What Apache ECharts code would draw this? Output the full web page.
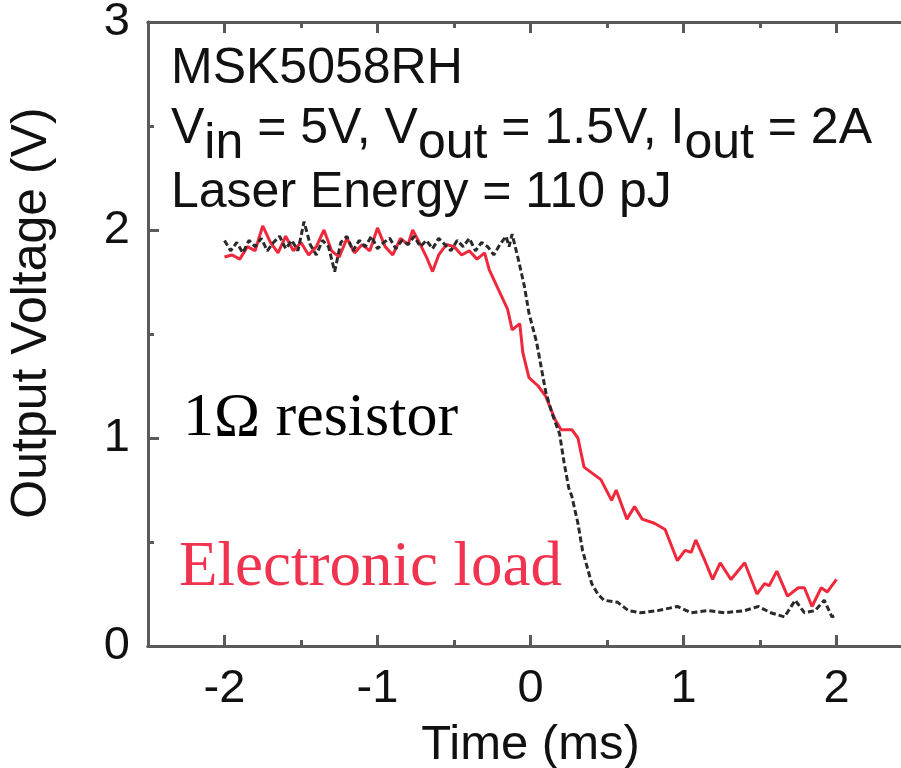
<!DOCTYPE html>
<html>
<head>
<meta charset="utf-8">
<script src="https://cdn.jsdelivr.net/npm/echarts@6/dist/echarts.min.js"></script>
<style>
  html, body { margin: 0; padding: 0; background: #fff; }
  #chart { width: 901px; height: 768px; }
</style>
</head>
<body>
<div id="chart"></div>
<script>
// 1 ohm resistor trace (black)
const resistorTime = [-2.0, -1.96, -1.92, -1.88, -1.84, -1.8, -1.76, -1.72, -1.68, -1.64, -1.6, -1.56, -1.52, -1.48, -1.44, -1.4, -1.36, -1.32, -1.28, -1.24, -1.2, -1.16, -1.12, -1.08, -1.04, -1.0, -0.96, -0.92, -0.88, -0.84, -0.8, -0.76, -0.72, -0.68, -0.64, -0.6, -0.56, -0.52, -0.48, -0.44, -0.4, -0.36, -0.32, -0.28, -0.24, -0.2, -0.16, -0.14, -0.12,
  -0.08, -0.04, -0.01, 0.04, 0.07, 0.10, 0.14, 0.19, 0.22, 0.25, 0.27, 0.31, 0.34, 0.37, 0.40, 0.44, 0.48,
  0.57, 0.64, 0.72, 0.83, 0.96, 1.05, 1.16, 1.27, 1.40, 1.49, 1.57, 1.66, 1.73, 1.79, 1.86, 1.92, 1.97, 2.0];
const resistorVolt = [1.95, 1.90, 1.94, 1.89, 1.95, 1.92, 1.96, 1.90, 1.94, 1.97, 1.91, 1.95, 1.90, 2.04, 1.93, 1.88, 1.95, 1.92, 1.80, 1.94, 1.97, 1.90, 1.95, 1.92, 1.97, 1.91, 1.94, 1.96, 1.91, 1.95, 1.93, 1.97, 1.92, 1.95, 1.91, 1.96, 1.93, 1.90, 1.95, 1.92, 1.96, 1.90, 1.94, 1.92, 1.88, 1.93, 1.97, 1.92, 1.98,
  1.86, 1.73, 1.60, 1.46, 1.34, 1.22, 1.12, 1.02, 0.88, 0.76, 0.72, 0.59, 0.46, 0.38, 0.30, 0.25, 0.22,
  0.21, 0.17, 0.16, 0.17, 0.19, 0.16, 0.17, 0.16, 0.17, 0.19, 0.16, 0.14, 0.22, 0.16, 0.17, 0.22, 0.14, 0.15];

// electronic load trace (red)
const loadTime = [-2.0, -1.95, -1.9, -1.85, -1.8, -1.75, -1.7, -1.65, -1.6, -1.55, -1.5, -1.45, -1.4, -1.35, -1.3, -1.25, -1.2, -1.15, -1.1, -1.05, -1.0, -0.95, -0.9, -0.85, -0.8, -0.77, -0.72, -0.68, -0.64, -0.6, -0.55, -0.5, -0.45, -0.4, -0.35, -0.3,
  -0.27, -0.22, -0.15, -0.12, -0.07, -0.05, -0.01, 0.05, 0.10, 0.16, 0.20, 0.27, 0.31, 0.35, 0.46, 0.53, 0.56, 0.63, 0.68, 0.73, 0.81, 0.88, 0.96, 1.01, 1.05, 1.08, 1.14, 1.19, 1.24, 1.31, 1.40, 1.48, 1.53, 1.56, 1.61, 1.68, 1.75, 1.79, 1.84, 1.90, 1.94, 2.0];
const loadVolt = [1.87, 1.88, 1.86, 1.92, 1.90, 2.02, 1.94, 1.89, 1.97, 1.90, 1.94, 1.88, 1.92, 2.00, 1.90, 1.87, 1.96, 1.89, 1.93, 1.90, 2.01, 1.92, 1.88, 1.96, 1.93, 2.00, 1.93, 1.87, 1.80, 1.88, 1.93, 1.92, 1.88, 1.90, 1.86, 1.89,
  1.81, 1.73, 1.62, 1.52, 1.55, 1.41, 1.29, 1.25, 1.20, 1.09, 1.04, 1.04, 1.00, 0.86, 0.80, 0.70, 0.75, 0.61, 0.67, 0.61, 0.59, 0.56, 0.41, 0.46, 0.45, 0.51, 0.41, 0.32, 0.40, 0.32, 0.40, 0.25, 0.30, 0.29, 0.36, 0.24, 0.28, 0.28, 0.19, 0.28, 0.26, 0.32];

const xMajor = [-2, -1, 0, 1, 2];
const xMinor = [-1.5, -0.5, 0.5, 1.5];
const yMajor = [0, 1, 2, 3];
const yMinor = [0.5, 1.5, 2.5];

const toPairs = (xs, ys) => xs.map((x, i) => [x, ys[i]]);

const axisColor = '#5a5a5a';
const sans = 'Liberation Sans, Arial, sans-serif';
const serif = 'Liberation Serif, Times New Roman, serif';

const xBase = {
  type: 'value', min: -2.5, max: 2.5,
  splitLine: { show: false },
  axisLine: { show: true, onZero: false, lineStyle: { color: axisColor, width: 3 } }
};
const yBase = {
  type: 'value', min: 0, max: 3,
  splitLine: { show: false },
  axisLine: { show: true, onZero: false, lineStyle: { color: axisColor, width: 3 } }
};

const tick = (len, values) => ({
  show: true, inside: true, length: len, customValues: values,
  lineStyle: { color: axisColor, width: 3 }
});

const chart = echarts.init(document.getElementById('chart'));
chart.setOption({
  animation: false,
  backgroundColor: '#fff',
  grid: { left: 148, top: 22, width: 765, bottom: 122, containLabel: false, outerBoundsMode: 'none' },
  xAxis: [
    Object.assign({}, xBase, {
      position: 'bottom',
      name: 'Time (ms)', nameLocation: 'middle', nameGap: 75,
      nameTextStyle: { fontFamily: sans, fontSize: 49, color: '#111' },
      axisTick: tick(11, xMajor),
      axisLabel: { customValues: xMajor, margin: 20, fontFamily: sans, fontSize: 47, color: '#111' }
    }),
    Object.assign({}, xBase, { position: 'bottom', axisTick: tick(6, xMinor), axisLabel: { show: false } }),
    Object.assign({}, xBase, { position: 'top', axisTick: tick(11, xMajor), axisLabel: { show: false } }),
    Object.assign({}, xBase, { position: 'top', axisTick: tick(6, xMinor), axisLabel: { show: false } })
  ],
  yAxis: [
    Object.assign({}, yBase, {
      position: 'left',
      name: 'Output Voltage (V)', nameLocation: 'middle', nameGap: 91,
      nameTextStyle: { fontFamily: sans, fontSize: 50, color: '#111', padding: [0, 0, 0, 42] },
      axisTick: tick(11, yMajor),
      axisLabel: { customValues: yMajor, margin: 18, fontFamily: sans, fontSize: 47, color: '#111' }
    }),
    Object.assign({}, yBase, { position: 'left', axisTick: tick(6, yMinor), axisLabel: { show: false } }),
    Object.assign({}, yBase, { position: 'right', axisTick: tick(11, yMajor), axisLabel: { show: false } }),
    Object.assign({}, yBase, { position: 'right', axisTick: tick(6, yMinor), axisLabel: { show: false } })
  ],
  series: [
    {
      name: '1Ω resistor', type: 'line', showSymbol: false,
      xAxisIndex: 0, yAxisIndex: 0,
      data: toPairs(resistorTime, resistorVolt),
      lineStyle: { color: '#2a2a2a', width: 3, type: [6, 3] },
      z: 3
    },
    {
      name: 'Electronic load', type: 'line', showSymbol: false,
      xAxisIndex: 0, yAxisIndex: 0,
      data: toPairs(loadTime, loadVolt),
      lineStyle: { color: '#f0283c', width: 3 },
      z: 2
    }
  ],
  graphic: [
    { type: 'text', left: 171, top: 44,
      style: { text: 'MSK5058RH', fontFamily: sans, fontSize: 50, fill: '#111' } },
    { type: 'text', left: 171, top: 104,
      style: {
        text: 'V{s|in} = 5V, V{s|out} = 1.5V, I{s|out} = 2A',
        fontFamily: sans, fontSize: 50, fill: '#111',
        rich: { s: { fontFamily: sans, fontSize: 50, fill: '#111', padding: [30, 0, 0, 0] } }
      } },
    { type: 'text', left: 171, top: 168,
      style: { text: 'Laser Energy = 110 pJ', fontFamily: sans, fontSize: 50, fill: '#111' } },
    { type: 'text', left: 183, top: 388,
      style: { text: '1Ω resistor', fontFamily: serif, fontSize: 62, fill: '#000' } },
    { type: 'text', left: 179, top: 537,
      style: { text: 'Electronic load', fontFamily: serif, fontSize: 63, fill: '#f0344f' } }
  ]
});
</script>
</body>
</html>
